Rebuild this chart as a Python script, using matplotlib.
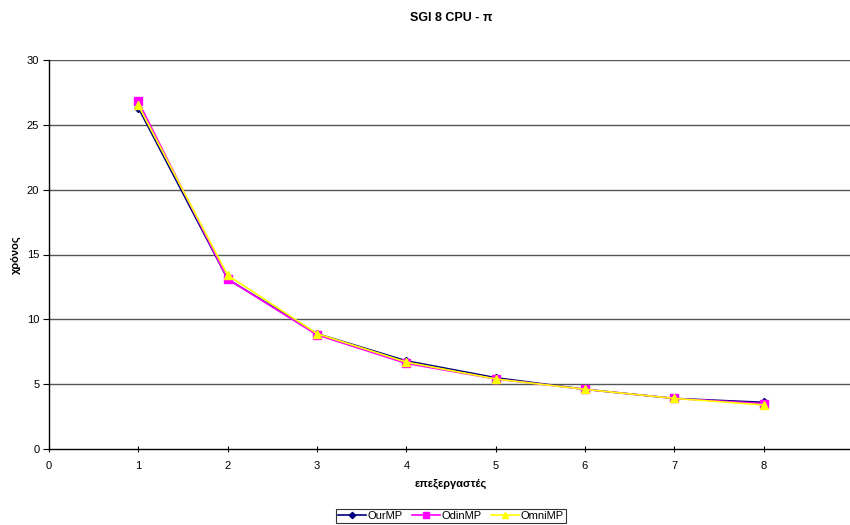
import matplotlib
matplotlib.use("Agg")
from matplotlib import pyplot as plt

plt.rcParams['font.family'] = ['Liberation Sans', 'DejaVu Sans']

processors = [1, 2, 3, 4, 5, 6, 7, 8]
ourmp = [26.3, 13.1, 8.9, 6.8, 5.5, 4.6, 3.9, 3.6]
odinmp = [26.8, 13.1, 8.8, 6.6, 5.4, 4.6, 3.9, 3.5]
omnimp = [26.5, 13.4, 8.9, 6.7, 5.4, 4.6, 3.9, 3.4]

fig = plt.figure(figsize=(8.5, 5.25), dpi=100)
ax = fig.add_axes([49 / 850, 1 - 449 / 525, 804 / 850, 389 / 525])

ax.plot(processors, ourmp, color="#000080", marker="D", markersize=4,
        linewidth=1.2, label="OurMP", zorder=3)
ax.plot(processors, odinmp, color="#FF00FF", marker="s", markersize=6,
        linewidth=1.2, label="OdinMP", zorder=4)
ax.plot(processors, omnimp, color="#FFFF00", marker="^", markersize=6,
        linewidth=1.2, label="OmniMP", zorder=5)

ax.set_xlim(0, 9)
ax.set_ylim(0, 30)
ax.set_xticks(range(0, 10))
ax.set_yticks(range(0, 31, 5))
for v in range(5, 31, 5):
    ax.axhline(v, color="#555555", linewidth=1.0, zorder=1)

for s in ["top", "right"]:
    ax.spines[s].set_visible(False)
ax.spines["left"].set_linewidth(1.0)
ax.spines["bottom"].set_linewidth(1.0)
ax.tick_params(axis="x", direction="inout", length=5, labelsize=8, pad=6)
ax.tick_params(axis="y", direction="out", length=4, labelsize=8, pad=3)

ax.set_title("SGI 8 CPU - π", fontsize=9, fontweight="bold", pad=28)
ax.set_xlabel("επεξεργαστές", fontsize=8, fontweight="bold", labelpad=6)
ax.set_ylabel("χρόνος", fontsize=8, fontweight="bold")
ax.yaxis.set_label_coords(-0.035, 0.5)

leg = fig.legend(loc="center", bbox_to_anchor=(451 / 850, 1 - 516 / 525),
                 ncol=3, fontsize=8, frameon=True, fancybox=False,
                 edgecolor="black", handlelength=2.5, handletextpad=0.2,
                 columnspacing=0.8, borderpad=0.2, borderaxespad=0,
                 markerscale=0.8)
leg.get_frame().set_linewidth(0.8)

fig.savefig("out.png", dpi=100)
